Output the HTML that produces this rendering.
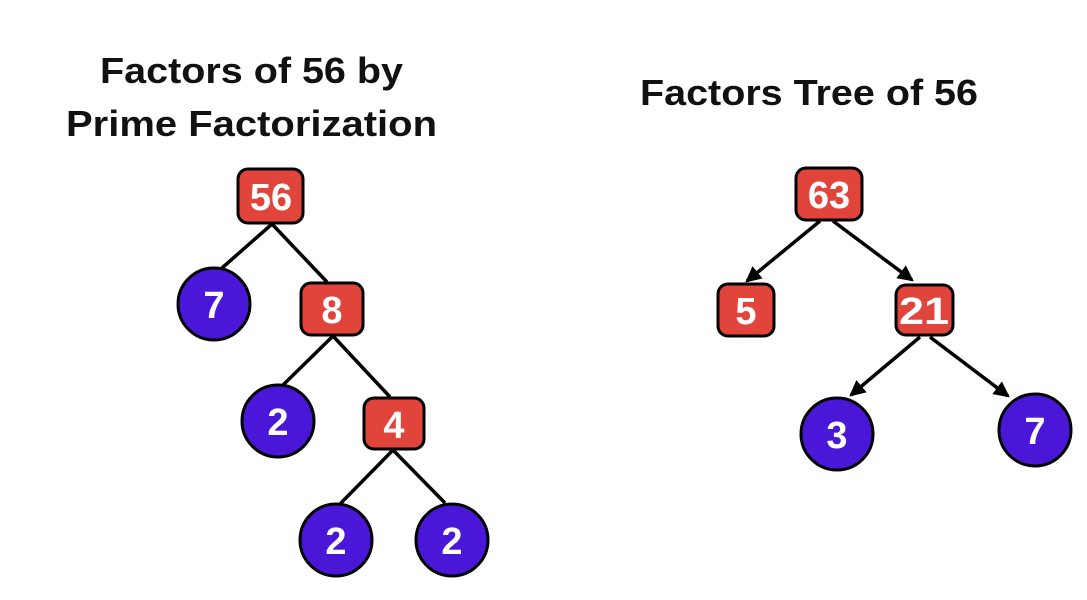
<!DOCTYPE html>
<html><head><meta charset="utf-8"><style>
html,body{margin:0;padding:0;background:#fff;}
svg{display:block}
text{font-family:"Liberation Sans",sans-serif;font-weight:bold}
</style></head><body>
<svg width="1087" height="600" viewBox="0 0 1087 600" xmlns="http://www.w3.org/2000/svg">
<defs>
<marker id="ah" markerWidth="16" markerHeight="16" refX="12" refY="7" orient="auto" markerUnits="userSpaceOnUse" viewBox="0 0 14 14">
<path d="M0,0 L14,7 L0,14 z" fill="#000"/>
</marker>
</defs>
<g fill="#111" font-size="36">
<text x="100" y="83" textLength="303" lengthAdjust="spacingAndGlyphs">Factors of 56 by</text>
<text x="66" y="136" textLength="371" lengthAdjust="spacingAndGlyphs">Prime Factorization</text>
<text x="640" y="105" textLength="338" lengthAdjust="spacingAndGlyphs">Factors Tree of 56</text>
</g>
<g stroke="#000" stroke-width="3.5" fill="none">
<line x1="272" y1="224" x2="222" y2="268"/>
<line x1="272" y1="224" x2="327" y2="282"/>
<line x1="333" y1="336" x2="283" y2="385"/>
<line x1="333" y1="336" x2="390" y2="397"/>
<line x1="393" y1="450" x2="340" y2="504"/>
<line x1="393" y1="450" x2="445" y2="503"/>
<line x1="820" y1="221" x2="747" y2="281" marker-end="url(#ah)"/>
<line x1="833" y1="221" x2="912" y2="280" marker-end="url(#ah)"/>
<line x1="920" y1="337" x2="851" y2="395" marker-end="url(#ah)"/>
<line x1="930" y1="337" x2="1008" y2="396" marker-end="url(#ah)"/>
</g>
<g stroke="#000" stroke-width="3">
<rect x="238" y="169" width="65" height="54" rx="10" fill="#e0443b"/>
<rect x="301" y="283" width="62" height="52" rx="10" fill="#e0443b"/>
<rect x="364" y="398" width="60" height="51" rx="10" fill="#e0443b"/>
<rect x="796" y="168" width="66" height="52" rx="10" fill="#e0443b"/>
<rect x="718" y="284" width="56" height="52" rx="10" fill="#e0443b"/>
<rect x="896" y="285" width="57" height="50" rx="10" fill="#e0443b"/>
<circle cx="214" cy="304" r="36" fill="#4a17d9"/>
<circle cx="278" cy="421" r="36" fill="#4a17d9"/>
<circle cx="336" cy="540" r="36" fill="#4a17d9"/>
<circle cx="452" cy="540" r="36" fill="#4a17d9"/>
<circle cx="837" cy="434" r="36" fill="#4a17d9"/>
<circle cx="1035" cy="430" r="36" fill="#4a17d9"/>
</g>
<g fill="#fff" font-size="38" text-anchor="middle">
<text x="271" y="210">56</text>
<text x="332" y="323">8</text>
<text x="394" y="438">4</text>
<text x="829" y="208">63</text>
<text x="746" y="324">5</text>
<text x="924" y="324" textLength="50" lengthAdjust="spacingAndGlyphs">21</text>
<text x="214" y="318">7</text>
<text x="278" y="435">2</text>
<text x="336" y="554">2</text>
<text x="452" y="554">2</text>
<text x="837" y="448">3</text>
<text x="1035" y="444">7</text>
</g>
</svg>
</body></html>
